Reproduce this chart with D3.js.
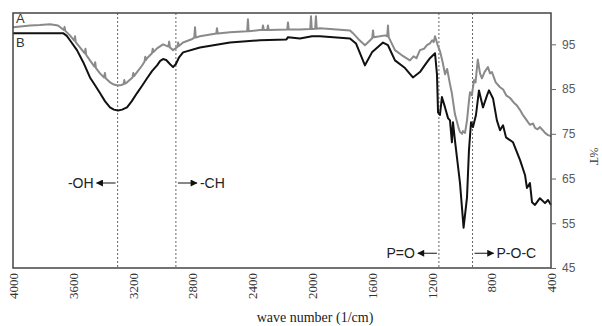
<!DOCTYPE html>
<html>
<head>
<meta charset="utf-8">
<script src="https://cdn.jsdelivr.net/npm/d3@7"></script>
<style>
  body { margin: 0; background: #fff; }
</style>
</head>
<body>
<div id="chart-container"></div>
<script>
   // spectra: [wave number, %T]
   const seriesA = [
       [4000, 98.8], [3950, 99.0], [3886, 99.2], [3820, 99.3], [3752, 99.5], [3699, 99.2],
       [3660, 98.2], [3655, 98.9], [3650, 98.0], [3619, 97.0],
       [3590, 95.8], [3585, 96.8], [3580, 95.5], [3552, 94.3],
       [3520, 93.0], [3515, 94.0], [3510, 92.6], [3485, 91.4],
       [3455, 90.0], [3450, 91.0], [3445, 89.7], [3418, 88.5],
       [3390, 87.6], [3385, 88.6], [3380, 87.4], [3351, 86.5], [3325, 86.0],
       [3297, 85.8], [3275, 85.9], [3260, 86.1], [3255, 87.0], [3250, 86.2], [3237, 86.5],
       [3200, 87.6], [3195, 88.6], [3190, 87.9], [3170, 88.8], [3140, 90.1],
       [3120, 91.1], [3115, 92.2], [3110, 91.5], [3103, 91.9],
       [3070, 93.0], [3065, 94.0], [3060, 93.3], [3036, 94.1], [2996, 95.0],
       [2960, 94.5], [2955, 95.6], [2950, 94.3], [2929, 93.7],
       [2900, 94.4], [2895, 95.4], [2890, 94.6], [2862, 95.4], [2800, 96.2],
       [2787, 96.5], [2782, 98.8], [2777, 96.5], [2749, 96.8],
       [2640, 97.4], [2635, 98.6], [2630, 97.4], [2548, 97.7],
       [2433, 97.9], [2428, 100.6], [2423, 97.9], [2347, 98.2],
       [2332, 98.2], [2327, 99.2], [2322, 98.2],
       [2299, 98.2], [2294, 99.2], [2289, 98.2],
       [2165, 98.3], [2160, 99.9], [2155, 98.3], [2080, 98.3],
       [2011, 98.4], [2006, 101.3], [2001, 98.4],
       [1978, 98.5], [1973, 101.3], [1968, 98.5], [1946, 98.6],
       [1745, 98.1], [1725, 97.5], [1690, 96.2], [1645, 94.8], [1610, 95.9],
       [1596, 96.4], [1591, 98.1], [1586, 96.6], [1545, 96.8], [1511, 97.0],
       [1496, 96.8], [1491, 99.2], [1486, 96.6], [1444, 93.7], [1400, 92.6],
       [1344, 91.4], [1320, 92.3], [1300, 91.9], [1277, 93.7], [1250, 94.0],
       [1230, 94.8], [1210, 95.2], [1195, 95.9], [1185, 95.5], [1176, 96.8],
       [1160, 95.0], [1143, 93.5], [1125, 91.0], [1109, 88.3], [1095, 89.5],
       [1076, 86.1], [1063, 84.0], [1050, 81.0], [1043, 79.4], [1020, 76.5],
       [1009, 75.4], [995, 75.0], [989, 75.6], [975, 75.2], [962, 78.0],
       [950, 82.0], [942, 84.3], [930, 83.6], [915, 87.0], [905, 86.5],
       [890, 91.6], [875, 88.5], [862, 87.4], [845, 88.8], [822, 89.9],
       [808, 88.5], [795, 88.8], [770, 86.5], [741, 85.4], [720, 84.9],
       [700, 83.6], [674, 83.0], [650, 82.0], [630, 81.4], [607, 80.3],
       [590, 79.3], [575, 78.6], [554, 77.6], [540, 77.0], [520, 77.3],
       [507, 76.3], [490, 76.0], [474, 76.5], [455, 75.8], [440, 75.2],
       [420, 74.7], [400, 74.5]
   ];

   const seriesB = [
       [4000, 97.5], [3665, 97.5], [3640, 96.9], [3619, 95.9], [3572, 93.7],
       [3530, 91.0], [3485, 87.6], [3450, 85.8], [3418, 84.1], [3385, 82.3],
       [3351, 80.9], [3325, 80.4], [3297, 80.2], [3270, 80.4], [3237, 80.9],
       [3205, 82.3], [3170, 84.1], [3135, 85.8], [3103, 87.4], [3070, 89.0],
       [3036, 90.3], [3015, 91.3], [2996, 91.7], [2975, 91.5], [2950, 90.6],
       [2929, 89.9], [2910, 90.6], [2890, 92.0], [2862, 93.2],
       [2749, 94.3], [2548, 95.4], [2347, 95.9], [2170, 96.1], [2160, 96.6],
       [2080, 96.3], [1999, 96.8], [1946, 96.8], [1745, 96.3], [1705, 95.2],
       [1645, 90.3], [1598, 93.2], [1524, 95.4], [1491, 94.8], [1444, 91.4],
       [1377, 89.7], [1324, 87.6], [1277, 88.8], [1243, 90.4], [1210, 91.9],
       [1176, 93.0], [1163, 88.3], [1156, 79.8], [1143, 79.2], [1130, 83.2],
       [1109, 80.9], [1089, 78.5], [1076, 78.0], [1063, 73.1], [1056, 77.6],
       [1043, 73.6], [1009, 64.0], [989, 55.7], [985, 54.0], [962, 60.8],
       [949, 71.3], [935, 77.6], [922, 76.5], [902, 79.2], [882, 84.7],
       [855, 80.9], [828, 83.6], [815, 84.7], [788, 82.9], [762, 78.0],
       [741, 75.8], [721, 76.9], [701, 74.2], [654, 73.1], [607, 69.1],
       [574, 65.8], [561, 62.9], [541, 64.0], [527, 59.7], [507, 59.1],
       [474, 60.6], [440, 59.5], [420, 60.2], [400, 59.1]
   ];

   const xTicks = [4000, 3600, 3200, 2800, 2400, 2000, 1600, 1200, 800, 400];
   const yTicks = [45, 55, 65, 75, 85, 95];

   // marked bands: wave number of the guide line, label, arrow direction, label height (%T)
   const bands = [
       { wn: 3300, label: "-OH", dir: -1, at: 64 },
       { wn: 2910, label: "-CH", dir: 1, at: 64 },
       { wn: 1150, label: "P=O", dir: -1, at: 48.3 },
       { wn: 925, label: "P-O-C", dir: 1, at: 48.3 }
   ];

   const W = 602, H = 326;
   const margin = { left: 13, top: 13, right: 51, bottom: 58 };

   const x = d3.scaleLinear()
       .domain([4000, 400])
       .range([margin.left, W - margin.right]);

   const y = d3.scaleLinear()
       .domain([45, 102])
       .range([H - margin.bottom, margin.top]);

   const svg = d3.select("#chart-container")
       .append("svg")
       .attr("width", W)
       .attr("height", H)
       .style("display", "block");

   svg.append("defs").append("marker")
       .attr("id", "head")
       .attr("viewBox", "0 0 10 10")
       .attr("refX", 9).attr("refY", 5)
       .attr("markerWidth", 8).attr("markerHeight", 7)
       .attr("markerUnits", "userSpaceOnUse")
       .attr("orient", "auto")
       .append("path")
       .attr("d", "M0,0L10,5L0,10Z")
       .attr("fill", "#111");

   // guide lines
   svg.selectAll(".guide")
       .data(bands)
       .join("line")
       .attr("x1", d => x(d.wn)).attr("x2", d => x(d.wn))
       .attr("y1", y(102)).attr("y2", y(45))
       .attr("stroke", "#666")
       .attr("stroke-width", 1)
       .attr("stroke-dasharray", "2,2");

   const line = d3.line()
       .x(d => x(d[0]))
       .y(d => y(d[1]));

   svg.append("path")
       .datum(seriesA)
       .attr("fill", "none")
       .attr("stroke", "#8a8a8a")
       .attr("stroke-width", 2)
       .attr("stroke-linejoin", "round")
       .attr("d", line);

   svg.append("path")
       .datum(seriesB)
       .attr("fill", "none")
       .attr("stroke", "#111")
       .attr("stroke-width", 2)
       .attr("stroke-linejoin", "round")
       .attr("d", line);

   // frame
   svg.append("rect")
       .attr("x", x(4000)).attr("y", y(102))
       .attr("width", x(400) - x(4000))
       .attr("height", y(45) - y(102))
       .attr("fill", "none")
       .attr("stroke", "#444")
       .attr("stroke-width", 1.5);

   // right axis
   const yAxis = svg.append("g")
       .attr("transform", `translate(${x(400)},0)`)
       .call(d3.axisRight(y).tickValues(yTicks).tickSize(5).tickPadding(6));
   yAxis.select(".domain").remove();
   yAxis.selectAll("line").attr("stroke", "#666");
   yAxis.selectAll("text")
       .attr("fill", "#595959")
       .style("font", "12px 'Liberation Sans', Arial, sans-serif");

   // bottom axis
   const xAxis = svg.append("g")
       .attr("transform", `translate(0,${y(45)})`)
       .call(d3.axisBottom(x).tickValues(xTicks).tickSize(0).tickFormat(d3.format("d")));
   xAxis.select(".domain").remove();
   xAxis.selectAll("text")
       .attr("transform", "rotate(-90)")
       .attr("x", -5).attr("y", 0).attr("dy", "0.35em")
       .style("text-anchor", "end")
       .attr("fill", "#333")
       .style("font", "13px 'Liberation Serif', 'Times New Roman', serif");

   svg.append("text")
       .attr("x", 315).attr("y", 322)
       .attr("text-anchor", "middle")
       .attr("fill", "#222")
       .style("font", "14px 'Liberation Serif', 'Times New Roman', serif")
       .text("wave number (1/cm)");

   svg.append("text")
       .attr("transform", `translate(590,${y(70)}) rotate(90)`)
       .attr("text-anchor", "middle")
       .attr("fill", "#333")
       .style("font", "12px 'Liberation Serif', 'Times New Roman', serif")
       .text("%T");

   // series names
   svg.append("text")
       .attr("x", 16).attr("y", 23)
       .attr("fill", "#333")
       .style("font", "13px 'Liberation Sans', Arial, sans-serif")
       .text("A");
   svg.append("text")
       .attr("x", 16).attr("y", 47)
       .attr("fill", "#333")
       .style("font", "13px 'Liberation Sans', Arial, sans-serif")
       .text("B");

   // arrows and labels
   const ann = svg.selectAll(".ann")
       .data(bands)
       .join("g");

   ann.append("line")
       .attr("x1", d => x(d.wn) + d.dir * 2)
       .attr("x2", d => x(d.wn) + d.dir * 21)
       .attr("y1", d => y(d.at)).attr("y2", d => y(d.at))
       .attr("stroke", "#111")
       .attr("stroke-width", 1)
       .attr("marker-end", "url(#head)");

   ann.append("text")
       .attr("x", d => x(d.wn) + d.dir * 24)
       .attr("y", d => y(d.at))
       .attr("dy", "0.35em")
       .attr("text-anchor", d => d.dir < 0 ? "end" : "start")
       .attr("fill", "#222")
       .style("font", "14px 'Liberation Sans', Arial, sans-serif")
       .text(d => d.label);
</script>
</body>
</html>
